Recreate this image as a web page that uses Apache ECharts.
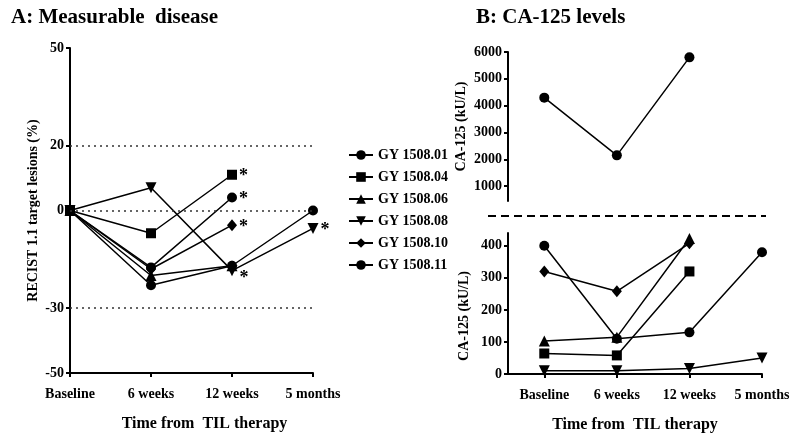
<!DOCTYPE html>
<html>
<head>
<meta charset="utf-8">
<script src="https://cdn.jsdelivr.net/npm/echarts@6/dist/echarts.min.js"></script>
<style>
  html, body { margin: 0; padding: 0; background: #fff; }
  #chart { width: 800px; height: 441px; }
</style>
</head>
<body>
<div id="chart"></div>
<script>
// categories / patients
const categories = ['Baseline', '6 weeks', '12 weeks', '5 months'];
const patients = ['GY 1508.01', 'GY 1508.04', 'GY 1508.06', 'GY 1508.08', 'GY 1508.10', 'GY 1508.11'];
const symbols = ['circle', 'rect', 'triangle', 'triangle', 'diamond', 'circle'];
const symbolRotate = [0, 0, 0, 180, 0, 0];

// panel A: % change of target lesions (RECIST 1.1)
const recist01 = [0, -17.5, 4, null];
const recist04 = [0, -7, 11, null];
const recist06 = [0, -20, -17, null];
const recist08 = [0, 7, -18.5, -5.5];
const recist10 = [0, -18, -4.5, null];
const recist11 = [0, -23, -17, 0];
const recistTicks = [-50, -30, 0, 20, 50];
const refLines = [20, 0, -30];
// asterisks: [patient index, time index]
const starred = [[1, 2], [0, 2], [4, 2], [3, 2], [3, 3]];

// panel B: CA-125 (kU/L)
const caHigh01 = [4300, 2150, 5800, null];
const caLow04 = [64, 58, 320, null];
const caLow06 = [103, 115, 423, null];
const caLow08 = [10, 10, 17, 50];
const caLow10 = [320, 258, 408, null];
const caLow11 = [400, 110, 130, 380];
const caHighTicks = [1000, 2000, 3000, 4000, 5000, 6000];
const caLowTicks = [0, 100, 200, 300, 400];

const recist = [recist01, recist04, recist06, recist08, recist10, recist11];
const caLow = [null, caLow04, caLow06, caLow08, caLow10, caLow11];

const FONT = 'Liberation Serif';
const labelStyle = { fontFamily: FONT, fontWeight: 'bold', fontSize: 14, color: '#000' };
const axisLine = { show: true, onZero: false, lineStyle: { color: '#000', width: 2 } };
const axisTick = { show: true, length: 4, lineStyle: { color: '#000', width: 2 } };
const plain = v => String(v);

function symbolOpts(i) {
    return {
        symbol: symbols[i],
        symbolSize: symbols[i] === 'diamond' ? [10, 12] : (symbols[i] === 'triangle' ? 11 : 10),
        symbolRotate: symbolRotate[i],
        itemStyle: { color: '#000' },
        lineStyle: { color: '#000', width: 1.5 }
    };
}

function starLabel(i, t) {
    const hit = starred.some(s => s[0] === i && s[1] === t);
    if (!hit) return null;
    const below = i === 3 && t === 2;
    return {
        show: true, formatter: '*', position: 'right', distance: 2,
        offset: below ? [0, 8] : [0, 2],
        fontFamily: FONT, fontWeight: 'bold', fontSize: 18, color: '#000'
    };
}

const series = [];
const drawOrder = [2, 0, 4, 1, 3, 5];

drawOrder.forEach(i => {
    const data = recist[i].map((v, t) => {
        if (v === null) return null;
        const lbl = starLabel(i, t);
        return lbl ? { value: v, label: lbl } : v;
    });
    series.push(Object.assign({
        name: patients[i], type: 'line', xAxisIndex: 0, yAxisIndex: 0,
        data: data, connectNulls: false, z: 3
    }, symbolOpts(i)));
});

// dotted reference lines panel A
series.push({
    type: 'line', xAxisIndex: 0, yAxisIndex: 0, data: [], silent: true,
    markLine: {
        symbol: 'none', silent: true, label: { show: false },
        lineStyle: { color: '#333', type: [2, 4], width: 1.5 },
        data: refLines.map(v => ({ yAxis: v }))
    }
});

// panel B, top section
series.push(Object.assign({
    name: patients[0], type: 'line', xAxisIndex: 1, yAxisIndex: 1,
    data: caHigh01.map((v, t) => v === null ? null : [t, v]).filter(d => d)
}, symbolOpts(0)));

// panel B, bottom section
drawOrder.forEach(i => {
    if (!caLow[i]) return;
    series.push(Object.assign({
        name: patients[i], type: 'line', xAxisIndex: 2, yAxisIndex: 2,
        data: caLow[i].map((v, t) => v === null ? null : [t, v]).filter(d => d)
    }, symbolOpts(i)));
});

const option = {
    animation: false,
    backgroundColor: '#fff',
    title: [
        { text: 'A: Measurable  disease', left: 6, top: 2, textStyle: { fontFamily: FONT, fontWeight: 'bold', fontSize: 21, color: '#000' } },
        { text: 'B: CA-125 levels', left: 471, top: 2, textStyle: { fontFamily: FONT, fontWeight: 'bold', fontSize: 21, color: '#000' } }
    ],
    legend: {
        data: patients,
        orient: 'vertical', left: 343, top: 143,
        itemWidth: 24, itemHeight: 12, itemGap: 8,
        textStyle: { fontFamily: FONT, fontWeight: 'bold', fontSize: 14, color: '#000' }
    },
    grid: [
        { left: 70, top: 48, width: 243, height: 325 },
        { left: 508, top: 52, width: 254, height: 149 },
        { left: 508, top: 233, width: 254, height: 141 }
    ],
    xAxis: [
        {
            gridIndex: 0, type: 'category', data: categories, boundaryGap: false,
            axisLine: axisLine, axisTick: Object.assign({}, axisTick, { alignWithLabel: true }),
            axisLabel: Object.assign({ margin: 14 }, labelStyle),
            name: 'Time from  TIL therapy', nameLocation: 'middle', nameGap: 43,
            nameTextStyle: { fontFamily: FONT, fontWeight: 'bold', fontSize: 16, color: '#000', padding: [0, 0, 0, 26] },
            splitLine: { show: false }
        },
        { gridIndex: 1, type: 'value', min: -0.5, max: 3, show: false },
        {
            gridIndex: 2, type: 'value', min: -0.5, max: 3,
            axisLine: axisLine,
            axisTick: Object.assign({}, axisTick, { customValues: [0, 1, 2, 3] }),
            axisLabel: Object.assign({ margin: 14, customValues: [0, 1, 2, 3], formatter: v => categories[v] }, labelStyle),
            name: 'Time from  TIL therapy', nameLocation: 'middle', nameGap: 43,
            nameTextStyle: { fontFamily: FONT, fontWeight: 'bold', fontSize: 16, color: '#000' },
            splitLine: { show: false }
        }
    ],
    yAxis: [
        {
            gridIndex: 0, type: 'value', min: -50, max: 50,
            axisLine: axisLine,
            axisTick: Object.assign({}, axisTick, { customValues: recistTicks }),
            axisLabel: Object.assign({ margin: 6, customValues: recistTicks, formatter: plain }, labelStyle),
            name: 'RECIST 1.1 target lesions (%)', nameLocation: 'middle', nameGap: 30,
            nameTextStyle: { fontFamily: FONT, fontWeight: 'bold', fontSize: 14, color: '#000' },
            splitLine: { show: false }
        },
        {
            gridIndex: 1, type: 'value', min: 450, max: 6000,
            axisLine: axisLine,
            axisTick: Object.assign({}, axisTick, { customValues: caHighTicks }),
            axisLabel: Object.assign({ margin: 6, customValues: caHighTicks, formatter: plain }, labelStyle),
            name: 'CA-125 (kU/L)', nameLocation: 'middle', nameGap: 40,
            nameTextStyle: { fontFamily: FONT, fontWeight: 'bold', fontSize: 14, color: '#000' },
            splitLine: { show: false }
        },
        {
            gridIndex: 2, type: 'value', min: 0, max: 440,
            axisLine: axisLine,
            axisTick: Object.assign({}, axisTick, { customValues: caLowTicks }),
            axisLabel: Object.assign({ margin: 6, customValues: caLowTicks, formatter: plain }, labelStyle),
            name: 'CA-125 (kU/L)', nameLocation: 'middle', nameGap: 37,
            nameTextStyle: { fontFamily: FONT, fontWeight: 'bold', fontSize: 14, color: '#000', padding: [0, 25, 0, 0] },
            splitLine: { show: false }
        }
    ],
    graphic: [
        {
            type: 'line', shape: { x1: 488, y1: 216, x2: 766, y2: 216 },
            style: { stroke: '#000', lineWidth: 2, lineDash: [8, 5] }
        }
    ],
    series: series
};

const chart = echarts.init(document.getElementById('chart'));
chart.setOption(option);
</script>
</body>
</html>
